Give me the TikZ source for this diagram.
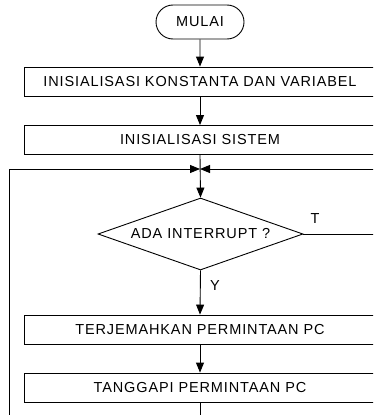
\documentclass[tikz,border=0pt]{standalone}
\usepackage{fontspec}
\setmainfont{Liberation Sans}[LetterSpace=6]
\usetikzlibrary{arrows.meta,shapes.geometric,shapes.misc}
\begin{document}
\begin{tikzpicture}[x=1pt,y=-1pt,
  txt/.style={font=\fontsize{14.5}{17}\selectfont, inner sep=0pt},
  term/.style={txt, draw, line width=0.9pt, rounded rectangle, minimum width=88pt, minimum height=34pt},
  proc/.style={txt, draw, line width=0.9pt, rectangle, minimum width=352pt, minimum height=29pt},
  dec/.style={txt, draw, line width=0.9pt, diamond, aspect=2.85, minimum width=205pt, minimum height=72pt},
  flow/.style={line width=0.9pt},
  arr/.style={flow, -{Triangle[length=10pt,width=8pt]}}
]
\clip (0,0) rectangle (373,415);
\node[term] (mulai) at (200,22) {MULAI};
\node[proc] (b1) at (200,81.5) {INISIALISASI KONSTANTA DAN VARIABEL};
\node[proc] (b2) at (200,140) {INISIALISASI SISTEM};
\node[dec] (d) at (200.5,234) {ADA INTERRUPT ?};
\node[proc] (b3) at (200,329.5) {TERJEMAHKAN PERMINTAAN PC};
\node[proc] (b4) at (200,387.5) {TANGGAPI PERMINTAAN PC};
\coordinate (j) at (200,169);
\coordinate (lt) at (9,169);
\coordinate (lb) at (9,420);
\coordinate (rr) at (380,169);
\coordinate (tend) at (380,234);
\coordinate (bend) at (200,420);
\node[txt] (tl) at (315,219) {T};
\node[txt] (yl) at (215,286) {Y};
\draw[arr] (mulai) -- (b1);
\draw[arr] (b1) -- (b2);
\draw[arr] (b2.south) -- (d.north);
\draw[arr] (lb) -- (lt) -- (j);
\draw[arr] (rr) -- (j);
\draw[flow] (d.east) -- (tend);
\draw[arr] (d.south) -- (b3.north);
\draw[arr] (b3) -- (b4);
\draw[flow] (b4.south) -- (bend);
\end{tikzpicture}
\end{document}
